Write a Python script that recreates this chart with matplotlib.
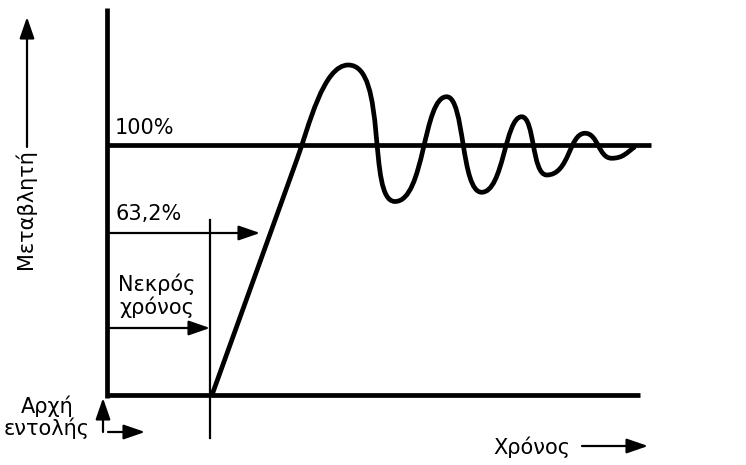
import matplotlib
matplotlib.use("Agg")
import matplotlib.pyplot as plt
from matplotlib.path import Path
from matplotlib.patches import PathPatch

plt.rcParams['font.family'] = ['DejaVu Sans']

# step response (time in arbitrary units, value in %)
start_t, start_y = 105, 0            # end of dead time
ramp_t, ramp_y = 190, 94.3           # end of the straight rise
ext_t = [241.3, 288, 339.7, 374.7, 414.7, 439.7, 478, 504.7]   # peaks / troughs
ext_y = [132, 77.4, 119.3, 81.1, 111.3, 88, 104.7, 94.7]
end_t, end_y = 528, 99.3

# bezier handle lengths (fraction of each half wave) that give the wave its shape
handle_a = [0.85, 0.58, 0.52, 0.55, 0.52, 0.6, 0.5]
handle_b = [0.6, 0.46, 0.6, 0.42, 0.6, 0.42, 0.5]

setpoint = 100
level_632 = 64.8
dead_time = 103
t_end = 533


def response_path():
    verts = [(start_t, start_y), (ramp_t, ramp_y)]
    codes = [Path.MOVETO, Path.LINETO]
    slope = (ramp_y - start_y) / (ramp_t - start_t)
    verts += [(ramp_t + 12, ramp_y + 12 * slope), (ext_t[0] - 25, ext_y[0]),
              (ext_t[0], ext_y[0])]
    codes += [Path.CURVE4] * 3
    for i in range(len(ext_t) - 1):
        t0, y0, t1, y1 = ext_t[i], ext_y[i], ext_t[i + 1], ext_y[i + 1]
        dt = t1 - t0
        verts += [(t0 + handle_a[i] * dt, y0), (t1 - handle_b[i] * dt, y1), (t1, y1)]
        codes += [Path.CURVE4] * 3
    t0, y0 = ext_t[-1], ext_y[-1]
    verts += [(t0 + 0.5 * (end_t - t0), y0), (end_t - 8, end_y - 2.2), (end_t, end_y)]
    codes += [Path.CURVE4] * 3
    return Path(verts, codes)


def arrow(ax, x0, y0, x1, y1):
    ax.annotate("", xy=(x1, y1), xytext=(x0, y0),
                arrowprops=dict(arrowstyle="-|>,head_length=1.3,head_width=0.45",
                                color="black", lw=1.6, shrinkA=0, shrinkB=0))


fig = plt.figure(figsize=(7.46, 4.65), dpi=100)
ax = fig.add_axes([0, 0, 1, 1])
ax.set_xlim(-107, 639)
ax.set_ylim(-28, 158)
ax.axis("off")

thick = 3.4
# axes and the 100% line
ax.plot([0, 0], [-1, 154.8], color="black", lw=thick, solid_capstyle="butt")
ax.plot([-1, t_end], [0, 0], color="black", lw=thick, solid_capstyle="butt")
ax.plot([0, 544], [setpoint, setpoint], color="black", lw=thick, solid_capstyle="butt")

# response
ax.add_patch(PathPatch(response_path(), fill=False, lw=thick,
                       edgecolor="black", joinstyle="round", capstyle="butt"))

# dead time marker
ax.plot([dead_time, dead_time], [70, -17.2], color="black", lw=1.6)
arrow(ax, 0, level_632, 153, level_632)
arrow(ax, 0, 26.8, dead_time, 26.8)

fs = 15
ax.text(8, 106.6, "100%", fontsize=fs, va="center", ha="left")
ax.text(8, 72.4, "63,2%", fontsize=fs, va="center", ha="left")
ax.text(50, 39.6, "Νεκρός\nχρόνος", fontsize=fs, va="center", ha="center", linespacing=1.1)

# axis labels
ax.text(-81.5, 74.4, "Μεταβλητή", fontsize=fs, rotation=90, va="center", ha="center")
arrow(ax, -80, 99.2, -80, 151.2)
ax.text(425, -20.8, "Χρόνος", fontsize=fs, va="center", ha="center")
arrow(ax, 475, -20.4, 541, -20.4)

ax.text(-60, -9, "Αρχή\nεντολής", fontsize=fs, va="center", ha="center", linespacing=1.05)
arrow(ax, -4, -14.8, -4, -1.2)
arrow(ax, 1, -14.8, 38, -14.8)

fig.savefig("out.png", dpi=100)
